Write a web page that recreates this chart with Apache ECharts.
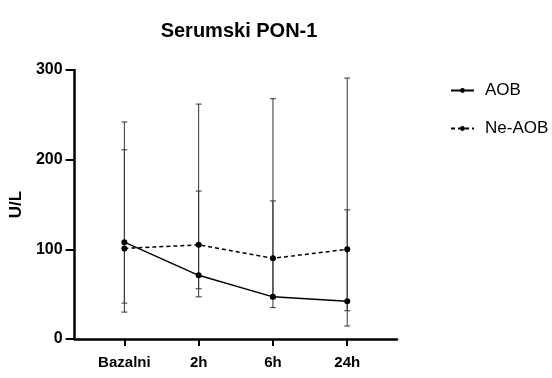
<!DOCTYPE html>
<html><head><meta charset="utf-8">
<script src="https://cdn.jsdelivr.net/npm/echarts@6/dist/echarts.min.js"></script>
<style>html,body{margin:0;padding:0;background:#fff}#c{width:552px;height:378px}</style>
</head><body><div id="c"></div>
<script>
const categories = ['Bazalni', '2h', '6h', '24h'];
const aobMean = [108, 71, 47, 42];
const aobHigh = [242, 262, 268, 291];
const aobLow = [30, 47, 35, 14.5];
const neMean = [101, 105, 90, 100];
const neHigh = [211, 165, 154, 144];
const neLow = [40, 56, 45, 31.5];
const yTicks = [0, 100, 200, 300];

const font = 'Liberation Sans, Arial, sans-serif';
const chart = echarts.init(document.getElementById('c'));

function errSeries(name, low, high) {
  return {
    type: 'custom', name: name + '-err', silent: true, z: 1,
    data: categories.map((c, i) => [i, low[i], high[i]]),
    renderItem: function (params, api) {
      const x = api.value(0);
      const lo = api.coord([x, api.value(1)]);
      const hi = api.coord([x, api.value(2)]);
      const w = 3;
      const st = { stroke: '#333', lineWidth: 1 };
      return { type: 'group', children: [
        { type: 'line', shape: { x1: lo[0], y1: lo[1], x2: hi[0], y2: hi[1] }, style: st },
        { type: 'line', shape: { x1: lo[0] - w, y1: lo[1], x2: lo[0] + w, y2: lo[1] }, style: st },
        { type: 'line', shape: { x1: hi[0] - w, y1: hi[1], x2: hi[0] + w, y2: hi[1] }, style: st }
      ]};
    }
  };
}

chart.setOption({
  animation: false,
  title: { text: 'Serumski PON-1', left: 234, textAlign: 'center', top: 16,
    textStyle: { fontFamily: font, fontWeight: 'bold', fontSize: 20, color: '#000' } },
  legend: {
    orient: 'vertical', left: 445, top: 77, itemGap: 21, itemWidth: 23, itemHeight: 6,
    data: ['AOB', 'Ne-AOB'],
    textStyle: { fontFamily: font, fontSize: 17, color: '#000', padding: [0, 0, 0, 6] }
  },
  grid: { left: 73, right: 155, top: 70, bottom: 39, containLabel: false },
  xAxis: {
    type: 'value', min: -0.67, max: 3.67,
    axisLine: { onZero: false, lineStyle: { color: '#000', width: 2.5 } },
    axisTick: { show: true, customValues: [0, 1, 2, 3], length: 7, lineStyle: { color: '#000', width: 2 } },
    axisLabel: { customValues: [0, 1, 2, 3], formatter: v => categories[Math.round(v)],
      fontFamily: font, fontWeight: 'bold', fontSize: 15, color: '#000', margin: 16 },
    splitLine: { show: false }
  },
  yAxis: {
    type: 'value', min: 0, max: 300, interval: 100,
    name: 'U/L', nameLocation: 'middle', nameGap: 43, nameRotate: 90,
    nameTextStyle: { fontFamily: font, fontWeight: 'bold', fontSize: 17, color: '#000' },
    axisLine: { show: true, onZero: false, lineStyle: { color: '#000', width: 2.5 } },
    axisTick: { show: true, length: 9, lineStyle: { color: '#000', width: 2 } },
    axisLabel: { fontFamily: font, fontWeight: 'bold', fontSize: 16, color: '#000', margin: 12,
      formatter: v => yTicks.includes(v) ? String(v) : '' },
    splitLine: { show: false }
  },
  series: [
    errSeries('AOB', aobLow, aobHigh),
    errSeries('Ne-AOB', neLow, neHigh),
    { name: 'AOB', type: 'line', z: 3, data: aobMean.map((v, i) => [i, v]),
      symbol: 'circle', symbolSize: 6, itemStyle: { color: '#000' },
      lineStyle: { color: '#000', width: 1.5, type: 'solid' } },
    { name: 'Ne-AOB', type: 'line', z: 3, data: neMean.map((v, i) => [i, v]),
      symbol: 'circle', symbolSize: 6, itemStyle: { color: '#000' },
      lineStyle: { color: '#000', width: 1.5, type: [4, 3] } }
  ]
});
</script></body></html>
